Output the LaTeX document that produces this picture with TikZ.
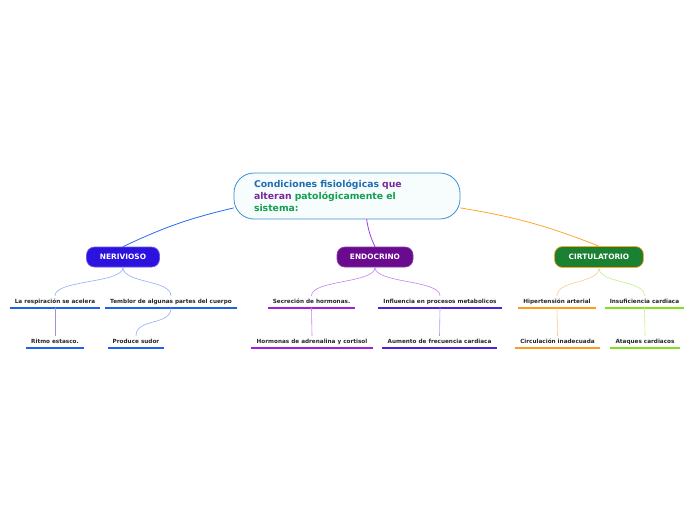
\documentclass[tikz,border=0pt]{standalone}
\usepackage{fontspec}
\setmainfont{DejaVu Sans}
\definecolor{rootline}{RGB}{61,143,212}
\definecolor{rootfill}{RGB}{247,252,253}
\definecolor{titleblue}{RGB}{30,110,176}
\definecolor{titlepurple}{RGB}{122,42,154}
\definecolor{titlegreen}{RGB}{16,160,80}
\definecolor{nervfill}{RGB}{44,18,222}
\definecolor{endofill}{RGB}{106,10,142}
\definecolor{circfill}{RGB}{26,128,50}
\definecolor{nervline}{RGB}{42,106,240}
\definecolor{endoline}{RGB}{160,64,240}
\definecolor{circline}{RGB}{255,166,48}
\definecolor{nervsoft}{RGB}{144,176,240}
\definecolor{endosoft}{RGB}{196,128,240}
\definecolor{orangesoft}{RGB}{255,200,140}
\definecolor{greensoft}{RGB}{196,240,130}
\definecolor{greysoft}{RGB}{150,150,210}
\definecolor{ulblue}{RGB}{32,96,240}
\definecolor{ulmagenta}{RGB}{160,32,224}
\definecolor{ulviolet}{RGB}{80,32,224}
\definecolor{ulorange}{RGB}{255,154,32}
\definecolor{ulgreen}{RGB}{128,224,32}

\begin{document}
\begin{tikzpicture}[x=1pt,y=-1pt,line cap=round,line join=round,
  topic/.style={rounded corners=8pt,minimum height=20pt,text=white,
    font=\fontsize{7.4}{8}\selectfont\bfseries,line width=0.7pt},
  sub/.style={anchor=south,inner xsep=5pt,inner ysep=3.2pt,text height=4.2pt,
    text depth=1.2pt,font=\fontsize{5.7}{7}\selectfont\bfseries,text=black!85},
  ul/.style={line width=1.3pt,line cap=butt}]
  \useasboundingbox (0,0) rectangle (696,520);

  % central idea
  \node[draw=rootline,fill=rootfill,line width=0.8pt,rounded corners=20pt,
    minimum width=226pt,minimum height=46pt,inner xsep=20pt,text width=186pt,
    align=left,font=\fontsize{9.3}{12}\selectfont\bfseries] (root) at (347,196)
    {\textcolor{titleblue}{Condiciones fisiológicas} \textcolor{titlepurple}{que}\\
     \textcolor{titlepurple}{alteran} \textcolor{titlegreen}{patológicamente el}\\
     \textcolor{titlegreen}{sistema:}};

  % main topics
  \node[topic,fill=nervfill,draw=nervfill!70!white,minimum width=73pt] (nerv) at (123,257) {NERIVIOSO};
  \node[topic,fill=endofill,draw=endofill!80!white,minimum width=76pt] (endo) at (375,257) {ENDOCRINO};
  \node[topic,fill=circfill,draw=circline,minimum width=89pt,minimum height=21pt] (circ) at (599,257) {CIRTULATORIO};

  \draw[nervline,line width=0.8pt] (root.186) to[bend right=6] (nerv.north);
  \draw[endoline,line width=0.8pt] (root.-50) to[bend right=8] (endo.north);
  \draw[circline,line width=0.8pt] (root.-6) to[bend left=6] (circ.north);

  % nervioso
  \node[sub] (resp) at (55,308) {La respiración se acelera};
  \node[sub] (temb) at (171,308) {Temblor de algunas partes del cuerpo};
  \node[sub] (ritmo) at (55,348) {Ritmo estasco.};
  \node[sub] (sudor) at (136,348) {Produce sudor};
  \draw[ul,ulblue] (resp.south west) -- (resp.south east);
  \draw[ul,ulblue] (temb.south west) -- (temb.south east);
  \draw[ul,ulblue] (ritmo.south west) -- (ritmo.south east);
  \draw[ul,ulblue] (sudor.south west) -- (sudor.south east);
  \draw[nervsoft,line width=0.6pt] (nerv.south) .. controls +(0,16) and +(0,-16) .. (resp.north);
  \draw[nervsoft,line width=0.6pt] (nerv.south) .. controls +(0,16) and +(0,-16) .. (temb.north);
  \draw[greysoft,line width=0.6pt] (resp.south) -- (ritmo.north);
  \draw[nervsoft,line width=0.6pt] (temb.south) .. controls +(0,18) and +(0,-18) .. (sudor.north);

  % endocrino
  \node[sub] (secr) at (311.5,308) {Secreción de hormonas.};
  \node[sub] (infl) at (440,308) {Influencia en procesos metabolicos};
  \node[sub] (horm) at (312,348) {Hormonas de adrenalina y cortisol};
  \node[sub] (aum) at (439.5,348) {Aumento de frecuencia cardiaca};
  \draw[ul,ulmagenta] (secr.south west) -- (secr.south east);
  \draw[ul,ulviolet] (infl.south west) -- (infl.south east);
  \draw[ul,ulmagenta] (horm.south west) -- (horm.south east);
  \draw[ul,ulviolet] (aum.south west) -- (aum.south east);
  \draw[endosoft,line width=0.6pt] (endo.south) .. controls +(0,16) and +(0,-16) .. (secr.north);
  \draw[endosoft,line width=0.6pt] (endo.south) .. controls +(0,16) and +(0,-16) .. (infl.north);
  \draw[endosoft,line width=0.6pt] (secr.south) -- (horm.north);
  \draw[ulviolet!45,line width=0.6pt] (infl.south) -- (aum.north);

  % circulatorio
  \node[sub] (hiper) at (557,308) {Hipertensión arterial};
  \node[sub] (insuf) at (644.5,308) {Insuficiencia cardiaca};
  \node[sub] (circu) at (557.5,348) {Circulación inadecuada};
  \node[sub] (ataq) at (645,348) {Ataques cardiacos};
  \draw[ul,ulorange] (hiper.south west) -- (hiper.south east);
  \draw[ul,ulgreen] (insuf.south west) -- (insuf.south east);
  \draw[ul,ulorange] (circu.south west) -- (circu.south east);
  \draw[ul,ulgreen] (ataq.south west) -- (ataq.south east);
  \draw[orangesoft,line width=0.6pt] (circ.south) .. controls +(0,16) and +(0,-16) .. (hiper.north);
  \draw[greensoft,line width=0.6pt] (circ.south) .. controls +(0,16) and +(0,-16) .. (insuf.north);
  \draw[orangesoft,line width=0.6pt] (hiper.south) -- (circu.north);
  \draw[greensoft,line width=0.6pt] (insuf.south) -- (ataq.north);
\end{tikzpicture}
\end{document}
